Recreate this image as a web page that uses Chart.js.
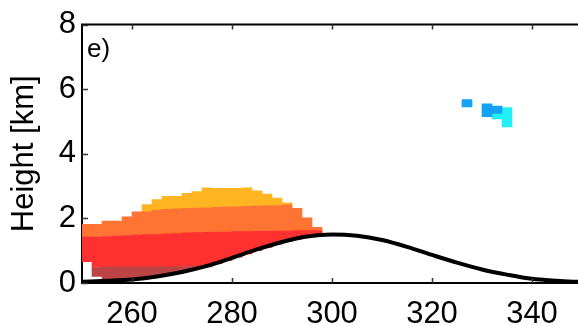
<!DOCTYPE html>
<html><head><meta charset="utf-8">
<script src="https://cdn.jsdelivr.net/npm/chart.js@4/dist/chart.umd.min.js"></script>
<style>html,body{margin:0;padding:0;background:#fff}#wrap{width:578px;height:326px;position:relative}canvas{display:block}</style>
</head><body><div id="wrap"><canvas id="c" width="578" height="326" style="width:578px;height:326px"></canvas></div>
<script>
// ---- data ----
const panelLabel = 'e)';
const yTitle = 'Height [km]';
const xTickValues = [260, 280, 300, 320, 340];
const yTickValues = [0, 2, 4, 6, 8];

// terrain profile (black curve)
const terrainX = [250,255,260,265,270,275,280,285,290,295,300,305,310,315,320,325,330,335,340,345,350];
const terrainY = [0.04,0.07,0.11,0.20,0.34,0.53,0.78,1.04,1.27,1.44,1.50,1.46,1.33,1.12,0.87,0.63,0.42,0.26,0.13,0.07,0.03];

// reflectivity cells (column centres, km boundaries)
const cellX        = [251,253,255,257,259,261,263,265,267,269,271,273,275,277,279,281,283,285,287,289,291,293,295,297];
const darkRedBottom= [null,0.20,0.12,0.12,0.13,0.15,0.18,0.22,0.27,0.32,0.38,0.44,null,null,null,null,null,null,null,null,null,null,null,null];
const redBottom    = [0.66,0.48,0.50,0.50,0.50,0.50,0.50,0.50,0.50,0.50,0.51,0.52,0.50,0.60,0.70,0.80,0.90,1.00,1.10,1.20,1.28,1.36,1.42,1.47];
const orangeBottom = [1.42,1.42,1.44,1.45,1.47,1.48,1.50,1.50,1.52,1.53,1.55,1.56,1.57,1.58,1.58,1.59,1.59,1.60,1.60,1.61,1.61,1.62,1.62,1.62];
const yellowBottom = [null,null,null,null,null,null,2.20,2.26,2.28,2.30,2.31,2.32,2.33,2.34,2.35,2.36,2.37,2.38,2.39,2.40,2.42,null,null,null];
const cellTop      = [1.82,1.82,1.92,1.92,2.05,2.20,2.43,2.58,2.68,2.68,2.78,2.83,2.95,2.93,2.93,2.93,2.95,2.85,2.75,2.63,2.48,2.31,2.02,1.72];

// upper-level cells
const blueX   = [327, 331, 333];
const blueLo  = [5.45, 5.15, 5.25];
const blueHi  = [5.68, 5.55, 5.48];
const cyanX   = [333, 335];
const cyanLo  = [5.08, 4.83];
const cyanHi  = [5.25, 5.43];

// ---- build datasets ----
function band(xs, lo, hi) {
  const out = [];
  xs.forEach((x, i) => {
    const a = lo[i], b = hi[i];
    if (a !== null && b !== null && a !== undefined && b !== undefined) out.push({x: x, y: [a, b]});
  });
  return out;
}
const orangeTop = cellTop.map((t, i) => yellowBottom[i] !== null ? yellowBottom[i] : t);

const barBase = {type: 'bar', grouped: false, borderWidth: 0, barPercentage: 1.0, categoryPercentage: 1.0, order: 2};

const datasets = [
  {type: 'line', data: terrainX.map((x, i) => ({x: x, y: terrainY[i]})), borderColor: '#000', borderWidth: 4,
   pointRadius: 0, cubicInterpolationMode: 'monotone', fill: false, order: 0},
  Object.assign({}, barBase, {data: band(cellX, darkRedBottom, redBottom), backgroundColor: '#bb4444'}),
  Object.assign({}, barBase, {data: band(cellX, redBottom, orangeBottom), backgroundColor: '#ff3030'}),
  Object.assign({}, barBase, {data: band(cellX, orangeBottom, orangeTop), backgroundColor: '#ff7432'}),
  Object.assign({}, barBase, {data: band(cellX, yellowBottom, cellTop), backgroundColor: '#ffb522'}),
  Object.assign({}, barBase, {data: band(blueX, blueLo, blueHi), backgroundColor: '#14a2f4'}),
  Object.assign({}, barBase, {data: band(cyanX, cyanLo, cyanHi), backgroundColor: '#22f0f4'})
];

const FONT = '"Liberation Sans", Arial, Helvetica, sans-serif';

const frame = {
  id: 'frame',
  afterDraw(chart) {
    const {ctx, chartArea: a, scales: {x, y}} = chart;
    ctx.save();
    ctx.strokeStyle = '#000';
    ctx.lineWidth = 2;
    ctx.beginPath();
    ctx.moveTo(a.left - 1, a.top);
    ctx.lineTo(chart.width, a.top);
    ctx.stroke();
    ctx.lineWidth = 1.5;
    ctx.strokeStyle = '#333';
    ctx.beginPath();
    xTickValues.forEach(v => {
      const px = Math.round(x.getPixelForValue(v)) + 0.5;
      ctx.moveTo(px, a.bottom); ctx.lineTo(px, a.bottom - 5);
      ctx.moveTo(px, a.top); ctx.lineTo(px, a.top + 5);
    });
    yTickValues.forEach(v => {
      const py = Math.round(y.getPixelForValue(v)) + 0.5;
      ctx.moveTo(a.left, py); ctx.lineTo(a.left + 6, py);
    });
    ctx.stroke();
    ctx.fillStyle = '#000';
    ctx.font = '26px ' + FONT;
    ctx.textBaseline = 'alphabetic';
    ctx.textAlign = 'left';
    ctx.fillText(panelLabel, a.left + 5, a.top + 32);
    ctx.restore();
  }
};

new Chart(document.getElementById('c'), {
  type: 'bar',
  data: {datasets: datasets},
  plugins: [frame],
  options: {
    responsive: false,
    maintainAspectRatio: false,
    animation: false,
    devicePixelRatio: 1,
    layout: {padding: {top: 19, right: 0, left: 0, bottom: 0}},
    plugins: {legend: {display: false}, tooltip: {enabled: false}},
    scales: {
      x: {
        type: 'linear', min: 250, max: 349.2, offset: false,
        afterBuildTicks: s => { s.ticks = xTickValues.map(v => ({value: v})); },
        afterFit: s => { s.height = 43; },
        grid: {display: true, drawOnChartArea: false, drawTicks: false},
        border: {display: true, color: '#000', width: 2},
        ticks: {padding: 13, color: '#000', font: {family: FONT, size: 31}, callback: v => String(v), maxRotation: 0, autoSkip: false}
      },
      y: {
        type: 'linear', min: 0, max: 8,
        afterBuildTicks: s => { s.ticks = yTickValues.map(v => ({value: v})); },
        afterFit: s => { s.width = 82; },
        grid: {display: true, drawOnChartArea: false, drawTicks: false},
        border: {display: true, color: '#000', width: 2},
        ticks: {padding: 6, color: '#000', font: {family: FONT, size: 31}, callback: v => String(v)},
        title: {display: true, text: yTitle, color: '#000', font: {family: FONT, size: 31}, padding: {top: 6, bottom: 0}}
      }
    }
  }
});
</script>
</body></html>
